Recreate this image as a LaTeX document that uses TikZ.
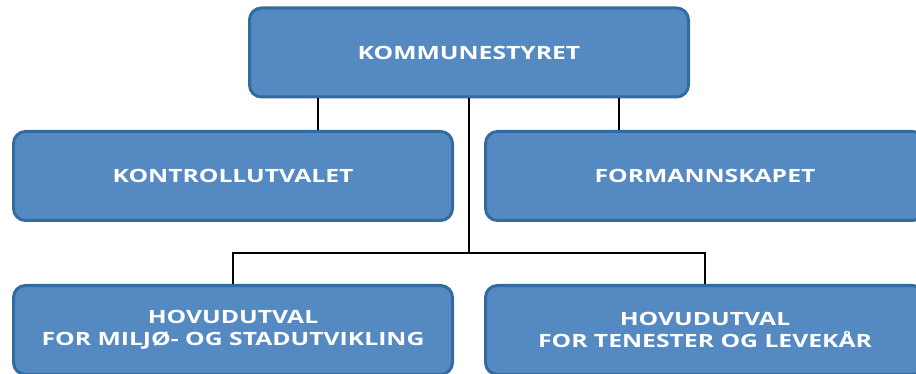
\documentclass[tikz,border=0pt]{standalone}
\usepackage{fontspec}
\newfontfamily\boxfont{Open Sans}[FakeStretch=1.35]
\definecolor{boxfill}{HTML}{5589C1}
\definecolor{boxedge}{HTML}{336A9F}
\begin{document}
\begin{tikzpicture}[x=1pt,y=-1pt,
    utval/.style={rounded corners=12pt,fill=boxfill,draw=boxedge,line width=3pt,
      minimum width=439pt,minimum height=89pt,align=center,text=white,
      font=\boxfont\bfseries\fontsize{18.3}{21.5}\selectfont},
    linje/.style={line width=2.5pt,black}]
    \useasboundingbox (0,0) rectangle (916,374);
    \clip (0,0) rectangle (916,374);
    \node[utval] (kommune) at (469,52.5) {KOMMUNESTYRET};
    \node[utval] (kontroll) at (233,176) {KONTROLLUTVALET};
    \node[utval] (formann) at (705,176) {FORMANNSKAPET};
    \node[utval] (miljo) at (233,330) {HOVUDUTVAL\\FOR MILJØ- OG STADUTVIKLING};
    \node[utval] (tenester) at (705,330) {HOVUDUTVAL\\FOR TENESTER OG LEVEKÅR};
    \coordinate (bus) at (469,253);
    \draw[linje] ([xshift=-151pt]kommune.south) -- ([xshift=85pt]kontroll.north);
    \draw[linje] ([xshift=150pt]kommune.south) -- ([xshift=-86pt]formann.north);
    \draw[linje] (kommune.south) -- (bus);
    \draw[linje] (miljo.north) |- (bus) -| (tenester.north);
\end{tikzpicture}
\end{document}
